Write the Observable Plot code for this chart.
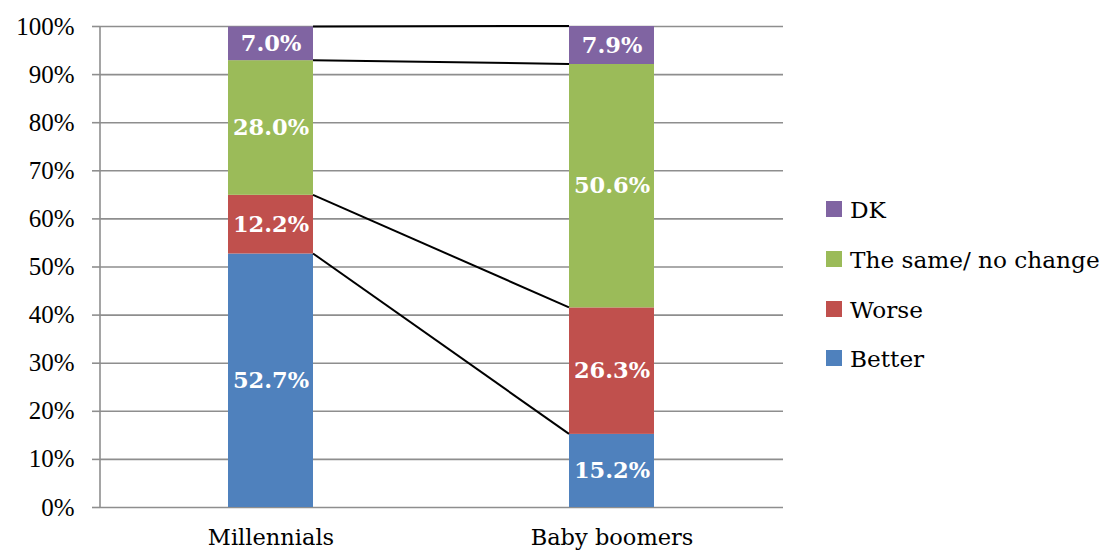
<!DOCTYPE html>
<html><head><meta charset="utf-8">
<script src="https://cdn.jsdelivr.net/npm/d3@7"></script>
<script src="https://cdn.jsdelivr.net/npm/@observablehq/plot@0.6"></script>
<style>
body{margin:0;background:#fff;}
#wrap{position:relative;width:1102px;height:553px;}
#legend{position:absolute;left:826px;top:0;font-family:"DejaVu Serif";font-size:23.2px;color:#000;}
.item{position:absolute;left:0;height:30px;white-space:nowrap;display:flex;align-items:center;}
.sw{width:16px;height:16px;margin-right:8px;flex:none;}
</style></head><body><div id="wrap"><div id="legend"></div></div>
<script>
const categories = ["Millennials", "Baby boomers"];
const series = ["Better", "Worse", "The same/ no change", "DK"];
const colors = ["#4F81BD", "#C0504D", "#9BBB59", "#8064A2"];
const better = [52.7, 15.2];
const worse = [12.2, 26.3];
const same = [28.0, 50.6];
const dk = [7.0, 7.9];
const yTicks = [0, 10, 20, 30, 40, 50, 60, 70, 80, 90, 100];

const valuesBySeries = [better, worse, same, dk];
const data = [];
categories.forEach((c, i) => series.forEach((s, j) => data.push({category: c, series: s, value: valuesBySeries[j][i]})));

// connector lines between cumulative tops of each series
const links = [];
for (let j = 0; j < series.length; j++) {
  const cum = categories.map((c, i) => d3.sum(valuesBySeries.slice(0, j + 1), v => v[i]));
  links.push({from: categories[0], to: categories[1], y1: cum[0], y2: cum[1]});
}

function connectors(index, scales, values, dimensions) {
  const sx = scales.x, sy = scales.y;
  let bw = sx.bandwidth;
  if (typeof bw === "function") bw = bw();
  if (bw == null) bw = 0;
  const g = d3.create("svg:g");
  // left axis line
  g.append("line")
    .attr("x1", dimensions.marginLeft).attr("x2", dimensions.marginLeft)
    .attr("y1", sy(100)).attr("y2", sy(0))
    .attr("stroke", "#8e8e8e").attr("stroke-width", 1.6);
  for (const l of links) {
    g.append("line")
      .attr("x1", sx(l.from) + bw).attr("x2", sx(l.to))
      .attr("y1", sy(l.y1)).attr("y2", sy(l.y2))
      .attr("stroke", "#000").attr("stroke-width", 2);
  }
  return g.node();
}

const chart = Plot.plot({
  width: 1102,
  height: 553,
  marginLeft: 100,
  marginRight: 319,
  marginTop: 26,
  marginBottom: 46,
  style: {fontFamily: "'Liberation Serif', serif", fontSize: "24px", color: "#000", background: "#fff"},
  x: {domain: categories, paddingInner: 0.75, paddingOuter: 0.375, label: null},
  y: {domain: [0, 100], label: null},
  color: {domain: series, range: colors},
  marks: [
    Plot.gridY(yTicks, {stroke: "#8e8e8e", strokeOpacity: 1, strokeWidth: 1.6}),
    Plot.axisY(yTicks, {tickSize: 8, tickPadding: 18, stroke: "#8e8e8e", strokeWidth: 1.6, tickFormat: d => d + "%", fontFamily: "Liberation Serif", fontSize: 25, label: null}),
    Plot.axisX({tickSize: 0, tickPadding: 22, fontFamily: "DejaVu Serif", fontSize: 22.5, label: null}),
    Plot.barY(data, {x: "category", y: "value", fill: "series", order: series}),
    connectors,
    Plot.text(data, Plot.stackY({x: "category", y: "value", z: "series", order: series,
      text: d => d.value.toFixed(1) + "%", fill: "white", fontWeight: "bold",
      fontFamily: "DejaVu Serif", fontSize: 22.5}))
  ]
});
document.getElementById("wrap").prepend(chart);

const legend = document.getElementById("legend");
const legendOrder = series.slice().reverse();
const centers = [209, 259, 309, 358];
legendOrder.forEach((s, k) => {
  const item = document.createElement("div");
  item.className = "item";
  item.style.top = (centers[k] - 15) + "px";
  const sw = document.createElement("div");
  sw.className = "sw";
  sw.style.background = colors[series.indexOf(s)];
  const t = document.createElement("span");
  t.textContent = s;
  item.append(sw, t);
  legend.append(item);
});
</script></body></html>
